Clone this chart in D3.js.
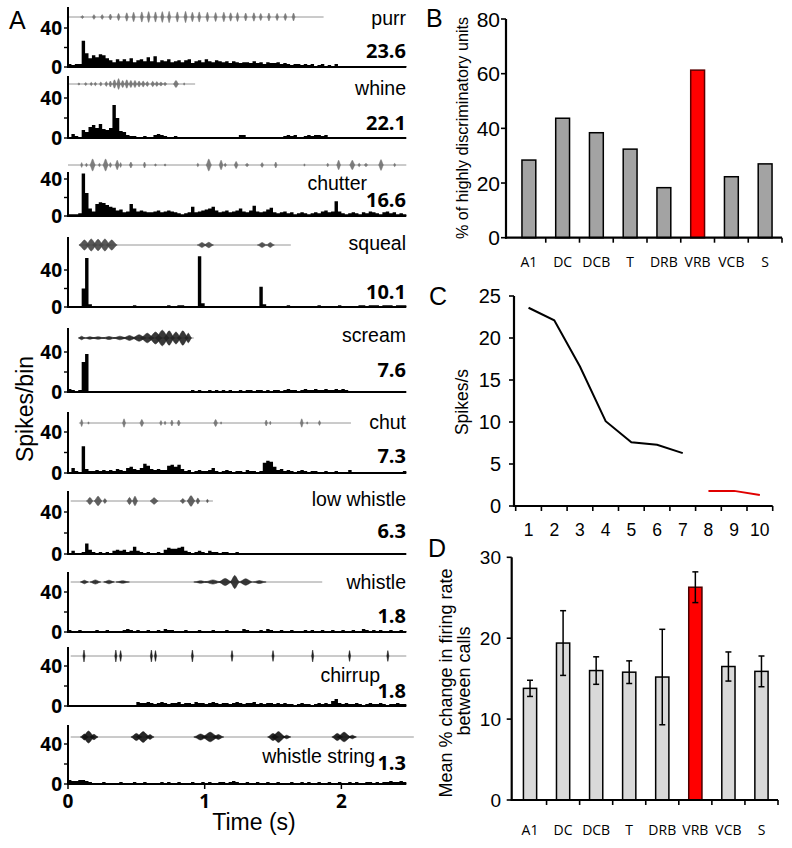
<!DOCTYPE html>
<html><head><meta charset="utf-8">
<script src="https://cdn.jsdelivr.net/npm/d3@7"></script>
<style>body{margin:0;background:#fff}svg{display:block}</style>
</head><body><svg id="c" width="792" height="848"></svg>
<script>
// ---------------- DATA ----------------
const callNames = ["purr","whine","chutter","squeal","scream","chut","low whistle","whistle","chirrup","whistle string"];
const callRates = [23.6,22.1,16.6,10.1,7.6,7.3,6.3,1.8,1.8,1.3];
const binWidth = 0.025; // s
const timeTicks = [0,1,2];
const psthTicks = [0,20,40];

const psthPurr = [3,2,3,3,27,14,9,12,10,13,12,9,7,5,8,6,8,6,9,5,7,8,6,10,6,11,5,7,6,8,5,6,7,5,7,8,4,6,7,5,8,6,5,7,6,5,6,4,6,5,4,5,5,4,6,4,5,3,5,4,4,5,3,4,3,2,3,3,2,3,2,3,1,2,3,1,2,1,3,1,0,1,0,0,0,0,1,0,0,1,0,1,0,1,0,1,0,1,1];
const psthWhine = [1,4,2,1,8,6,11,13,10,14,9,8,10,33,20,7,6,3,2,2,1,1,2,1,1,3,4,3,2,1,1,2,1,0,1,1,1,0,1,0,1,0,0,1,0,0,1,0,0,0,3,3,1,0,0,0,1,0,0,0,0,0,0,2,3,2,3,1,1,2,3,2,3,3,2,3,1,0,1,0,0,0,0,0,0,0,0,0,0,0,0,0,0,0,0,0,0,0,0];
const psthChutter = [2,2,2,3,46,25,8,5,13,15,14,12,10,9,6,7,4,5,13,8,5,6,5,4,4,5,6,4,5,6,5,4,3,2,3,4,10,4,5,6,7,8,10,6,4,5,6,4,5,6,8,5,4,6,11,5,4,5,7,9,4,3,4,5,3,4,2,3,4,3,2,3,4,3,5,6,4,5,16,5,3,2,3,4,3,2,4,3,5,4,3,2,4,5,3,4,2,3,2];
const psthSqueal = [1,1,1,1,20,53,3,1,1,0,1,1,0,1,1,1,0,1,1,2,1,0,1,1,1,0,1,1,1,2,1,1,2,2,1,1,1,1,55,4,1,0,1,1,1,0,1,1,0,1,1,1,1,0,1,1,22,3,1,1,0,1,1,1,2,1,1,1,0,1,1,1,1,2,1,1,1,1,1,2,1,1,1,1,1,2,2,1,2,2,2,1,2,2,2,1,2,2,2];
const psthScream = [3,2,1,2,30,38,1,1,0,1,0,1,1,0,1,0,1,1,0,1,0,1,1,0,1,0,1,1,1,0,1,1,0,1,1,1,2,1,2,1,1,2,1,2,1,2,1,2,1,1,2,1,2,2,1,2,2,1,2,1,2,2,1,2,3,2,2,1,2,3,2,2,3,2,2,3,2,2,3,2,3,2,1,0,0,0,0,0,0,0,0,0,0,0,0,0,0,0,0];
const psthChut = [1,5,2,1,26,4,2,2,3,2,3,2,3,2,4,3,2,5,6,4,3,5,9,7,4,3,4,3,3,7,8,6,8,4,2,3,1,2,3,2,2,3,5,2,1,2,3,2,1,2,2,1,3,2,2,1,2,10,12,11,6,3,4,2,3,2,1,2,3,2,1,2,2,1,1,2,1,1,2,1,0,1,3,0,1,0,0,0,1,0,0,0,0,0,0,1,0,1,2];
const psthLowWhistle = [1,3,1,1,2,10,4,2,1,2,1,2,1,3,4,3,4,2,3,7,3,2,1,2,1,1,2,1,4,6,5,5,6,7,3,2,1,2,3,2,1,3,2,2,1,2,2,1,1,2,1,0,1,1,0,1,1,0,1,0,1,1,0,1,0,1,1,0,1,1,0,1,0,1,1,0,0,1,0,1,1,0,1,0,0,0,0,0,0,0,0,0,0,0,0,0,0,0,0];
const psthWhistle = [2,1,1,2,1,1,1,1,2,1,1,2,1,1,1,1,2,3,2,1,2,1,1,2,1,1,2,1,3,2,2,1,1,1,2,1,1,1,2,1,1,1,2,1,1,1,2,1,1,1,1,3,2,1,1,1,2,1,3,2,1,1,2,1,1,2,1,1,1,2,1,2,1,1,2,1,1,2,1,1,2,1,1,2,1,1,3,2,1,2,1,2,1,1,2,1,1,2,1];
const psthChirrup = [1,1,1,1,1,1,1,1,1,1,1,1,1,0,0,1,1,1,1,1,4,3,3,4,3,2,3,4,3,2,3,3,4,2,3,3,2,4,3,3,2,3,4,3,2,3,3,2,3,4,3,2,3,3,4,2,3,2,3,3,2,3,2,3,2,2,1,2,3,2,2,1,2,3,2,3,2,5,7,3,2,3,2,2,3,2,1,2,3,2,2,3,2,1,2,2,3,2,2];
const psthWhistleString = [4,3,3,4,4,3,2,1,1,1,2,1,1,1,1,2,1,1,1,2,1,1,2,1,1,1,1,2,1,2,1,1,2,1,1,1,2,1,1,2,1,2,1,1,2,2,1,2,3,2,1,1,2,1,1,2,1,1,2,1,1,2,1,1,1,2,1,1,2,1,2,1,1,2,1,1,2,1,1,2,1,1,2,1,2,1,1,2,2,1,2,1,2,2,3,2,2,3,2];

// waveform envelopes: [center time s, half-width s, relative amplitude]
const waveSpans = [[0,1.87],[0,0.93],[0,2.475],[0.08,1.63],[0.08,0.92],[0.08,2.07],[0.02,1.06],[0.02,1.86],[0.02,2.475],[0.02,2.53]];
const wavePurr = [[0.105,.012,.25],[0.19,.012,.4],[0.25,.012,.4],[0.31,.012,.5],[0.37,.012,.6],[0.43,.012,.7],[0.48,.012,.8],[0.54,.012,.85],[0.59,.012,.9],[0.64,.012,.85],[0.69,.012,.9],[0.74,.012,.95],[0.80,.012,.85],[0.86,.012,.95],[0.91,.012,.8],[0.96,.012,.85],[1.02,.012,.8],[1.08,.012,.75],[1.14,.012,.8],[1.19,.012,.7],[1.24,.012,.75],[1.30,.012,.65],[1.36,.012,.7],[1.41,.012,.6],[1.47,.012,.65],[1.53,.012,.6],[1.59,.012,.6],[1.65,.012,.65]];
const waveWhine = [[0.08,.008,.2],[0.13,.01,.25],[0.17,.01,.3],[0.2,.01,.3],[0.24,.01,.35],[0.28,.012,.4],[0.31,.012,.5],[0.34,.015,.7],[0.37,.015,.9],[0.40,.015,.6],[0.43,.015,.7],[0.46,.015,.6],[0.49,.015,.6],[0.52,.015,.5],[0.55,.015,.5],[0.58,.015,.4],[0.62,.015,.45],[0.65,.015,.4],[0.68,.015,.35],[0.71,.012,.3],[0.79,.02,.6],[0.85,.006,.2]];
const waveChutter = [[0.10,.008,.4],[0.135,.008,.3],[0.18,.02,1.0],[0.23,.008,.3],[0.275,.02,1.0],[0.31,.01,.4],[0.36,.015,.8],[0.385,.008,.4],[0.46,.012,.5],[0.56,.01,.5],[0.64,.008,.2],[0.71,.008,.2],[0.95,.008,.3],[1.03,.02,1.0],[1.12,.015,.8],[1.15,.01,.3],[1.23,.015,.6],[1.31,.012,.3],[1.42,.012,.4],[1.52,.01,.5],[1.73,.006,.2],[1.90,.008,.3],[1.98,.015,.8],[2.08,.02,.8],[2.13,.01,.3],[2.18,.012,.3],[2.29,.018,.9],[2.39,.008,.3]];
const waveSqueal = [[0.12,.04,.85],[0.17,.04,1.0],[0.22,.04,0.95],[0.27,.04,1.0],[0.32,.04,.85],[0.98,.035,.4],[1.03,.035,.45],[1.42,.035,.4],[1.48,.03,.4]];
const waveScream = [[0.1,.025,.3],[0.16,.04,.2],[0.22,.05,.2],[0.3,.05,.25],[0.38,.05,.3],[0.45,.05,.4],[0.52,.05,.55],[0.58,.05,.8],[0.64,.05,1.0],[0.69,.05,1.3],[0.74,.04,1.2],[0.79,.04,1.0],[0.84,.04,1.2],[0.88,.025,.8]];
const waveChut = [[0.10,.01,.6],[0.15,.006,.2],[0.41,.012,.7],[0.54,.015,.6],[0.68,.01,.4],[0.71,.008,.3],[0.76,.01,.5],[0.81,.012,.5],[1.08,.015,.6],[1.12,.006,.2],[1.45,.01,.5],[1.48,.006,.3],[1.71,.012,.7],[1.75,.006,.2],[1.84,.01,.4]];
const waveLowWhistle = [[0.16,.025,.6],[0.22,.03,.8],[0.27,.015,.4],[0.45,.02,.6],[0.49,.02,.8],[0.63,.03,.55],[0.84,.02,.4],[0.9,.03,.9],[0.95,.015,.5],[1.02,.008,.3]];
const waveWhistle = [[0.12,.03,.3],[0.2,.04,.35],[0.3,.04,.3],[0.4,.05,.2],[0.97,.05,.2],[1.06,.06,.35],[1.15,.05,.6],[1.22,.035,1.1],[1.3,.05,.55],[1.4,.05,.25]];
const waveChirrup = [[0.117,.008,1],[0.35,.008,1],[0.385,.008,.9],[0.61,.008,1],[0.64,.008,.9],[0.91,.008,1],[1.20,.008,.9],[1.50,.008,.9],[1.79,.008,1],[2.06,.008,.9],[2.34,.008,.9]];
const waveWhistleString = [[0.12,.03,.5],[0.15,.045,1.0],[0.19,.03,.45],[0.5,.04,.6],[0.55,.05,0.9],[0.6,.03,.4],[0.97,.05,.5],[1.04,.06,0.8],[1.1,.04,.4],[1.5,.04,.6],[1.54,.05,0.9],[1.6,.03,.3],[1.97,.04,.6],[2.02,.05,0.8],[2.08,.03,.3]];

// Panel B
const regions = ["A1","DC","DCB","T","DRB","VRB","VCB","S"];
const pctDiscrim = [28.4,43.7,38.4,32.4,18.3,61.3,22.3,27.0];
const bTicks = [0,20,40,60,80];
// Panel C
const rankLabels = ["1","2","3","4","5","6","7","8","9","10"];
const cTicks = [0,5,10,15,20,25];
// Panel D
const meanChange = [13.8,19.4,16.0,15.8,15.2,26.3,16.5,15.9];
const changeErr = [1.0,4.0,1.7,1.4,5.9,1.9,1.8,1.9];
const dTicks = [0,10,20,30];
const highlight = "VRB";

// ---------------- LAYOUT ----------------
const psthList = [psthPurr,psthWhine,psthChutter,psthSqueal,psthScream,psthChut,psthLowWhistle,psthWhistle,psthChirrup,psthWhistleString];
const waveList = [wavePurr,waveWhine,waveChutter,waveSqueal,waveScream,waveChut,waveLowWhistle,waveWhistle,waveChirrup,waveWhistleString];
const rowLayout = [
 {base:67, top:7,  k40:39, wy:17,  nameX:406, nameY:25,  rateY:58,  wc:"#707070"},
 {base:138,top:76, k40:40, wy:84,  nameX:406, nameY:95,  rateY:130, wc:"#707070"},
 {base:216,top:172,k40:37, wy:165, nameX:367, nameY:190, rateY:207, wc:"#707070"},
 {base:307,top:237,k40:37, wy:245, nameX:406, nameY:250, rateY:299, wc:"#454545"},
 {base:392,top:328,k40:40, wy:338, nameX:406, nameY:342, rateY:377, wc:"#222"},
 {base:473,top:412,k40:41, wy:423, nameX:406, nameY:429, rateY:463, wc:"#707070"},
 {base:554,top:491,k40:42, wy:501, nameX:406, nameY:506, rateY:538, wc:"#505050"},
 {base:632,top:572,k40:40, wy:582, nameX:406, nameY:589, rateY:623, wc:"#222"},
 {base:706,top:647,k40:40, wy:656, nameX:380, nameY:682, rateY:698, wc:"#111"},
 {base:784,top:725,k40:40, wy:737, nameX:375, nameY:763, rateY:770, wc:"#111"}
];
const ARIAL = "'Liberation Sans', Arial, sans-serif";
const BOLD = "'Open Sans', 'Liberation Sans', sans-serif";

const svg = d3.select("#c");

// ---------------- PANEL A ----------------
const x = d3.scaleLinear().domain([0, 2.475]).range([68, 406.3]);
const ampPx = 6;
const shapeU = [-1,-0.6,-0.3,0,0.3,0.6,1];
const shapeH = [0,0.35,0.75,1,0.75,0.35,0];

rowLayout.forEach((L, r) => {
  const g = svg.append("g");
  const y = d3.scaleLinear().domain([0, 40]).range([L.base, L.base - L.k40]);
  const span = waveSpans[r];
  g.append("line").attr("x1", x(span[0])).attr("x2", x(span[1]))
    .attr("y1", L.wy).attr("y2", L.wy).attr("stroke", "#8a8a8a").attr("stroke-width", 0.9);
  const wArea = d3.area().x(d => d[0]).y0(d => L.wy + d[1]).y1(d => L.wy - d[1]).curve(d3.curveMonotoneX);
  waveList[r].forEach(b => {
    const pts = shapeU.map((u, i) => [x(b[0] + u * b[1]), shapeH[i] * b[2] * ampPx]);
    g.append("path").attr("d", wArea(pts)).attr("fill", L.wc).attr("fill-opacity", 0.9)
      .attr("stroke", L.wc).attr("stroke-width", 0.5);
  });
  const vals = psthList[r];
  const pts = vals.map((v, i) => [i * binWidth, v]);
  pts.push([vals.length * binWidth, vals[vals.length - 1]]);
  const area = d3.area().x(d => x(Math.min(d[0], 2.475))).y0(L.base).y1(d => y(d[1])).curve(d3.curveStepAfter);
  g.append("path").attr("d", area(pts)).attr("fill", "#000");
  g.append("line").attr("x1", x(0)).attr("x2", x(2.475)).attr("y1", L.base).attr("y2", L.base)
    .attr("stroke", "#000").attr("stroke-width", 2.2);
  g.append("line").attr("x1", x(0)).attr("x2", x(0)).attr("y1", L.base + 1).attr("y2", L.top)
    .attr("stroke", "#000").attr("stroke-width", 2);
  psthTicks.forEach(t => {
    g.append("line").attr("x1", x(0) - 4).attr("x2", x(0)).attr("y1", y(t)).attr("y2", y(t))
      .attr("stroke", "#000").attr("stroke-width", 1.4);
    if (t !== 20) {
      g.append("text").attr("x", 62).attr("y", y(t) + 6.5).attr("text-anchor", "end")
        .attr("font-family", BOLD).attr("font-weight", 700).attr("font-size", 19).text(t);
    }
  });
  g.append("text").attr("x", L.nameX).attr("y", L.nameY).attr("text-anchor", "end")
    .attr("font-family", ARIAL).attr("font-size", 19.5).text(callNames[r]);
  g.append("text").attr("x", 406).attr("y", L.rateY).attr("text-anchor", "end")
    .attr("font-family", BOLD).attr("font-weight", 700).attr("font-size", 20).text(callRates[r].toFixed(1));
});
const lastBase = rowLayout[rowLayout.length - 1].base;
timeTicks.forEach(t => {
  svg.append("line").attr("x1", x(t)).attr("x2", x(t)).attr("y1", lastBase).attr("y2", lastBase + 5)
    .attr("stroke", "#000").attr("stroke-width", 1.5);
  svg.append("text").attr("x", x(t)).attr("y", 808).attr("text-anchor", "middle")
    .attr("font-family", BOLD).attr("font-weight", 700).attr("font-size", 19).text(t);
});
svg.append("text").attr("x", 254).attr("y", 830).attr("text-anchor", "middle")
  .attr("font-family", ARIAL).attr("font-size", 23).text("Time (s)");
svg.append("text").attr("transform", "translate(33,409) rotate(-90)").attr("text-anchor", "middle")
  .attr("font-family", ARIAL).attr("font-size", 23).text("Spikes/bin");
svg.append("text").attr("x", 9).attr("y", 29).attr("font-family", ARIAL).attr("font-size", 25).text("A");

function yAxisLeft(g, scale, ticks, ax, fs, lx) {
  g.append("line").attr("x1", ax).attr("x2", ax).attr("y1", scale(ticks[0]) + 1).attr("y2", scale(ticks[ticks.length - 1]))
    .attr("stroke", "#000").attr("stroke-width", 2.2);
  ticks.forEach(t => {
    g.append("line").attr("x1", ax - 5).attr("x2", ax).attr("y1", scale(t)).attr("y2", scale(t))
      .attr("stroke", "#000").attr("stroke-width", 1.6);
    g.append("text").attr("x", lx).attr("y", scale(t) + fs * 0.36).attr("text-anchor", "end")
      .attr("font-family", ARIAL).attr("font-size", fs).text(t);
  });
}
function xAxisBand(g, band, ax, yb, withFirst) {
  const r = band.range();
  g.append("line").attr("x1", ax - 1).attr("x2", r[1]).attr("y1", yb).attr("y2", yb)
    .attr("stroke", "#000").attr("stroke-width", 2.2);
  const dom = band.domain();
  dom.forEach(d => {
    const bx = band(d) + band.bandwidth() + (band.step() - band.bandwidth()) / 2;
    g.append("line").attr("x1", bx).attr("x2", bx).attr("y1", yb).attr("y2", yb + 5)
      .attr("stroke", "#000").attr("stroke-width", 1.6);
  });
  if (withFirst) {
    const bx0 = band(dom[0]) - (band.step() - band.bandwidth()) / 2;
    g.append("line").attr("x1", bx0).attr("x2", bx0).attr("y1", yb).attr("y2", yb + 5)
      .attr("stroke", "#000").attr("stroke-width", 1.6);
  }
}

// ---------------- PANEL B ----------------
{
  const g = svg.append("g");
  const xb = d3.scaleBand().domain(regions).range([512, 782]).paddingInner(0.59).paddingOuter(0.295);
  const yb = d3.scaleLinear().domain([0, 80]).range([237.7, 19]);
  g.selectAll("rect").data(regions).enter().append("rect")
    .attr("x", d => xb(d)).attr("width", xb.bandwidth())
    .attr("y", (d, i) => yb(pctDiscrim[i])).attr("height", (d, i) => yb(0) - yb(pctDiscrim[i]))
    .attr("fill", d => d === highlight ? "#ff0000" : "#a3a3a3")
    .attr("stroke", d => d === highlight ? "#5a0000" : "#000").attr("stroke-width", 1.5);
  yAxisLeft(g, yb, bTicks, 506, 21, 500);
  xAxisBand(g, xb, 506, 237.7, false);
  regions.forEach(d => g.append("text").attr("x", xb(d) + xb.bandwidth() / 2).attr("y", 267)
    .attr("text-anchor", "middle").attr("font-family", BOLD).attr("font-size", 14).text(d));
  g.append("text").attr("transform", "translate(468,128) rotate(-90)").attr("text-anchor", "middle")
    .attr("font-family", ARIAL).attr("font-size", 16.2).text("% of highly discriminatory units");
  g.append("text").attr("x", 426).attr("y", 27).attr("font-family", ARIAL).attr("font-size", 25).text("B");
}

// ---------------- PANEL C ----------------
{
  const g = svg.append("g");
  const xc = d3.scaleBand().domain(rankLabels).range([515.7, 772.7]);
  const yc = d3.scaleLinear().domain([0, 25]).range([506, 296]);
  yAxisLeft(g, yc, cTicks, 514, 20, 501);
  xAxisBand(g, xc, 514, 506, true);
  rankLabels.forEach(d => g.append("text").attr("x", xc(d) + xc.bandwidth() / 2).attr("y", 536)
    .attr("text-anchor", "middle").attr("font-family", ARIAL).attr("font-size", 17.5).text(d));
  const line = d3.line().x(d => xc(d[0]) + xc.bandwidth() / 2).y(d => yc(d[1]));
  const pts = rankLabels.map((d, i) => [d, callRates[i]]);
  g.append("path").attr("d", line(pts.slice(0, 7))).attr("fill", "none").attr("stroke", "#000").attr("stroke-width", 2);
  g.append("path").attr("d", line(pts.slice(7))).attr("fill", "none").attr("stroke", "#e00000").attr("stroke-width", 2);
  g.append("text").attr("transform", "translate(468,402) rotate(-90)").attr("text-anchor", "middle")
    .attr("font-family", ARIAL).attr("font-size", 17.5).text("Spikes/s");
  g.append("text").attr("x", 429).attr("y", 305).attr("font-family", ARIAL).attr("font-size", 25).text("C");
}

// ---------------- PANEL D ----------------
{
  const g = svg.append("g");
  const xd = d3.scaleBand().domain(regions).range([513.5, 778]).paddingInner(0.6).paddingOuter(0.3);
  const yd = d3.scaleLinear().domain([0, 30]).range([800, 557.3]);
  g.selectAll("rect").data(regions).enter().append("rect")
    .attr("x", d => xd(d)).attr("width", xd.bandwidth())
    .attr("y", (d, i) => yd(meanChange[i])).attr("height", (d, i) => yd(0) - yd(meanChange[i]))
    .attr("fill", d => d === highlight ? "#ff0000" : "#d9d9d9")
    .attr("stroke", d => d === highlight ? "#4a0000" : "#000").attr("stroke-width", 1.5);
  regions.forEach((d, i) => {
    const cx = xd(d) + xd.bandwidth() / 2;
    const hi = yd(meanChange[i] + changeErr[i]), lo = yd(meanChange[i] - changeErr[i]);
    g.append("line").attr("x1", cx).attr("x2", cx).attr("y1", hi).attr("y2", lo).attr("stroke", "#000").attr("stroke-width", 1.5);
    [hi, lo].forEach(yy => g.append("line").attr("x1", cx - 3).attr("x2", cx + 3).attr("y1", yy).attr("y2", yy)
      .attr("stroke", "#000").attr("stroke-width", 1.5));
  });
  yAxisLeft(g, yd, dTicks, 511.7, 19, 501);
  xAxisBand(g, xd, 511.7, 800, false);
  regions.forEach(d => g.append("text").attr("x", xd(d) + xd.bandwidth() / 2).attr("y", 835)
    .attr("text-anchor", "middle").attr("font-family", BOLD).attr("font-size", 14).text(d));
  g.append("text").attr("transform", "translate(452,683) rotate(-90)").attr("text-anchor", "middle")
    .attr("font-family", ARIAL).attr("font-size", 18).text("Mean % change in firing rate");
  g.append("text").attr("transform", "translate(470,681) rotate(-90)").attr("text-anchor", "middle")
    .attr("font-family", ARIAL).attr("font-size", 18).text("between calls");
  g.append("text").attr("x", 428).attr("y", 557).attr("font-family", ARIAL).attr("font-size", 25).text("D");
}
</script></body></html>
